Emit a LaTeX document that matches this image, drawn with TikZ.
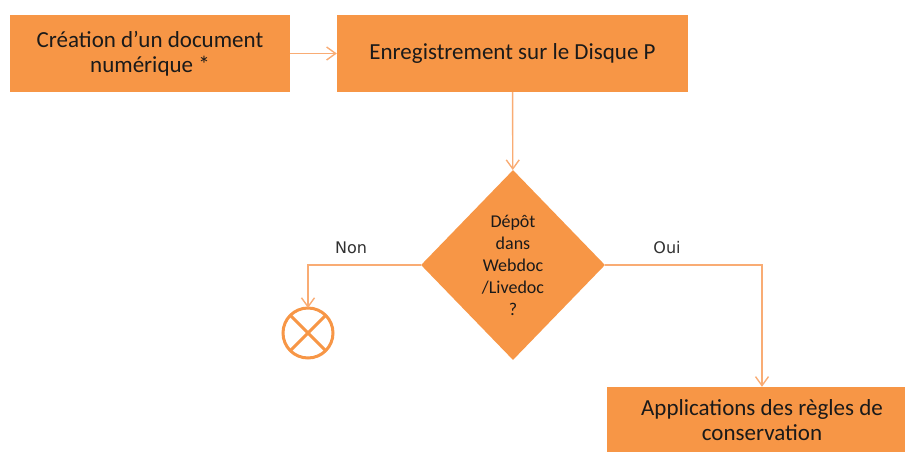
\documentclass[tikz,border=0pt]{standalone}
\usepackage{fontspec}
\setmainfont{Carlito}
\newfontfamily\labelfont{DejaVu Sans}
\usepackage{tikz}
\usetikzlibrary{shapes.geometric}
\usetikzlibrary{arrows.meta}

\definecolor{boxorange}{HTML}{F79646}
\definecolor{lineorange}{HTML}{F9AC74}
\definecolor{inktext}{HTML}{1A1A1A}

\tikzset{
    stepbox/.style={fill=boxorange, text=inktext, inner sep=0pt, align=center,
        font=\fontsize{23}{25}\selectfont},
    choice/.style={diamond, fill=boxorange, text=inktext, inner sep=0pt, aspect=0.97,
        align=center, minimum width=184pt, minimum height=190pt,
        font=\fontsize{18}{22}\selectfont},
    flow/.style={draw=lineorange, line width=1.4pt, -{Straight Barb[length=9pt,width=13pt]}},
    answer/.style={text=inktext!90, font=\labelfont\fontsize{16}{18}\selectfont}
}

\begin{document}
\begin{tikzpicture}[x=1pt, y=-1pt]
        \useasboundingbox (0, 0) rectangle (905, 451);
        \clip (0, 0) rectangle (905, 451);

        % The boxes
        \node[stepbox, minimum width=280pt, minimum height=77pt] (create) at (150, 53.5)
            {Création d’un document\\numérique *};
        \node[stepbox, minimum width=351pt, minimum height=77pt] (save) at (512.5, 53.5)
            {Enregistrement sur le Disque P};
        \node[choice] (deposit) at (513, 265)
            {Dépôt\\dans\\Webdoc\\/Livedoc\\?};
        \node[stepbox, minimum width=310pt, minimum height=66pt] (apply) at (762, 420)
            {Applications des règles de\\conservation};

        % The end mark
        \node[circle, draw=boxorange, fill=white, line width=3pt, outer sep=0pt,
            minimum size=50pt, inner sep=0pt] (stop) at (308, 333) {};
        \draw[boxorange, line width=3pt] (stop.north west) -- (stop.south east);
        \draw[boxorange, line width=3pt] (stop.north east) -- (stop.south west);

        % The connectors
        \draw[flow] (create) -- (save);
        \draw[flow] (save) -- (deposit);
        \draw[flow] (deposit.west) -| (stop.north);
        \draw[flow] (deposit.east) -| (apply.north);

        % The labels of the answers
        \node[answer] (no) at (351, 248) {Non};
        \node[answer] (yes) at (667, 248) {Oui};
    \end{tikzpicture}
\end{document}
